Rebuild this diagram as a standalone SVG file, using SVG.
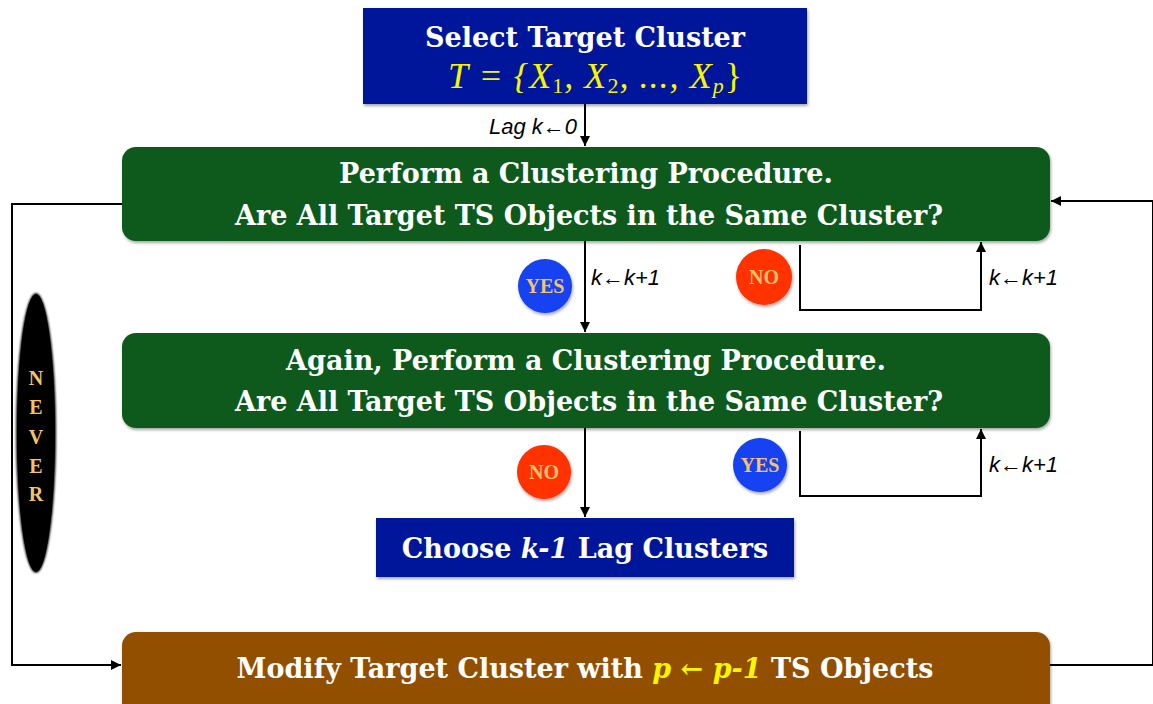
<svg xmlns="http://www.w3.org/2000/svg" width="1153" height="704" viewBox="0 0 1153 704">
<defs>
<marker id="arr" viewBox="0 0 10 10" refX="10" refY="5" markerWidth="10" markerHeight="10" markerUnits="userSpaceOnUse" orient="auto">
<path d="M0,0 L10,5 L0,10 z" fill="#000"/>
</marker>
<filter id="sh" x="-5%" y="-10%" width="110%" height="125%">
<feDropShadow dx="1" dy="2" stdDeviation="1.5" flood-color="#000" flood-opacity="0.35"/>
</filter>
<filter id="blur" x="-50%" y="-10%" width="200%" height="120%">
<feGaussianBlur stdDeviation="1.2"/>
</filter>
</defs>
<style>
.t{font-family:"DejaVu Serif","Liberation Serif",serif;font-weight:bold;fill:#fff;text-anchor:middle;}
.m{font-family:"Liberation Serif",serif;font-style:italic;fill:#f8f500;}
.lbl{font-family:"Liberation Sans",sans-serif;font-style:italic;font-size:22px;fill:#000;}
.c{font-family:"Liberation Serif",serif;font-size:20px;font-weight:bold;fill:#f3c46c;text-anchor:middle;}
.ln{fill:none;stroke:#000;stroke-width:2;}
</style>
<rect width="1153" height="704" fill="#fff"/>
<g id="connectors">
<line class="ln" x1="585" y1="104" x2="585" y2="146" marker-end="url(#arr)"/>
<line class="ln" x1="585" y1="241" x2="585" y2="332" marker-end="url(#arr)"/>
<line class="ln" x1="585" y1="428" x2="585" y2="517" marker-end="url(#arr)"/>
<polyline class="ln" points="800,245 800,310 981,310 981,242" marker-end="url(#arr)"/>
<polyline class="ln" points="800,431 800,496 981,496 981,429" marker-end="url(#arr)"/>
<polyline class="ln" points="122,204 12,204 12,665 121,665" marker-end="url(#arr)"/>
<polyline class="ln" points="1050,665 1153,665 1153,201 1051,201" marker-end="url(#arr)"/>
<text class="lbl" x="577" y="134" text-anchor="end">Lag k←0</text>
<text class="lbl" x="591" y="285">k←k+1</text>
<text class="lbl" x="989" y="285">k←k+1</text>
<text class="lbl" x="989" y="472">k←k+1</text>
</g>
<g id="select">
<rect x="363" y="8" width="444" height="96" fill="#02169a" filter="url(#sh)"/>
<text class="t" x="585" y="47" font-size="27">Select Target Cluster</text>
<text class="m" x="448" y="88" font-size="36" textLength="294" lengthAdjust="spacing">T = {X<tspan font-size="22" dy="5" font-style="normal">1</tspan><tspan dy="-5">, X</tspan><tspan font-size="22" dy="5" font-style="normal">2</tspan><tspan dy="-5">, ..., X</tspan><tspan font-size="22" dy="5">p</tspan><tspan dy="-5" font-style="normal">}</tspan></text>
</g>
<g id="cluster1">
<rect x="122" y="147" width="928" height="94" rx="14" fill="#0c5a1b" filter="url(#sh)"/>
<text class="t" x="586" y="183" font-size="27">Perform a Clustering Procedure.</text>
<text class="t" x="589" y="225" font-size="27">Are All Target TS Objects in the Same Cluster?</text>
</g>
<g id="yes1">
<circle cx="545" cy="286" r="27" fill="#1242f2" filter="url(#sh)"/>
<text class="c" x="545" y="293">YES</text>
</g>
<g id="no1">
<circle cx="764" cy="277" r="28" fill="#ff3000" filter="url(#sh)"/>
<text class="c" x="764" y="284">NO</text>
</g>
<g id="cluster2">
<rect x="122" y="333" width="928" height="95" rx="14" fill="#0c5a1b" filter="url(#sh)"/>
<text class="t" x="586" y="370" font-size="27">Again, Perform a Clustering Procedure.</text>
<text class="t" x="589" y="411" font-size="27">Are All Target TS Objects in the Same Cluster?</text>
</g>
<g id="no2">
<circle cx="544" cy="472" r="27" fill="#ff3000" filter="url(#sh)"/>
<text class="c" x="544" y="479">NO</text>
</g>
<g id="yes2">
<circle cx="760" cy="465" r="27" fill="#1242f2" filter="url(#sh)"/>
<text class="c" x="760" y="472">YES</text>
</g>
<g id="choose">
<rect x="376" y="518" width="418" height="59" fill="#02169a" filter="url(#sh)"/>
<text class="t" x="585" y="558" font-size="27">Choose <tspan font-style="italic">k-1</tspan> Lag Clusters</text>
</g>
<g id="never">
<ellipse cx="36" cy="433" rx="20" ry="140" fill="#000" filter="url(#blur)"/>
<ellipse cx="36" cy="433" rx="19" ry="139" fill="#000"/>
<text class="c" x="36" y="385" font-size="19">N</text>
<text class="c" x="36" y="414" font-size="19">E</text>
<text class="c" x="36" y="444" font-size="19">V</text>
<text class="c" x="36" y="473" font-size="19">E</text>
<text class="c" x="36" y="501" font-size="19">R</text>
</g>
<g id="modify">
<rect x="122" y="632" width="928" height="90" rx="14" fill="#935000" filter="url(#sh)"/>
<text class="t" x="585" y="678" font-size="27">Modify Target Cluster with <tspan font-style="italic" fill="#f8f500">p ← p-1</tspan> TS Objects</text>
</g>
</svg>
